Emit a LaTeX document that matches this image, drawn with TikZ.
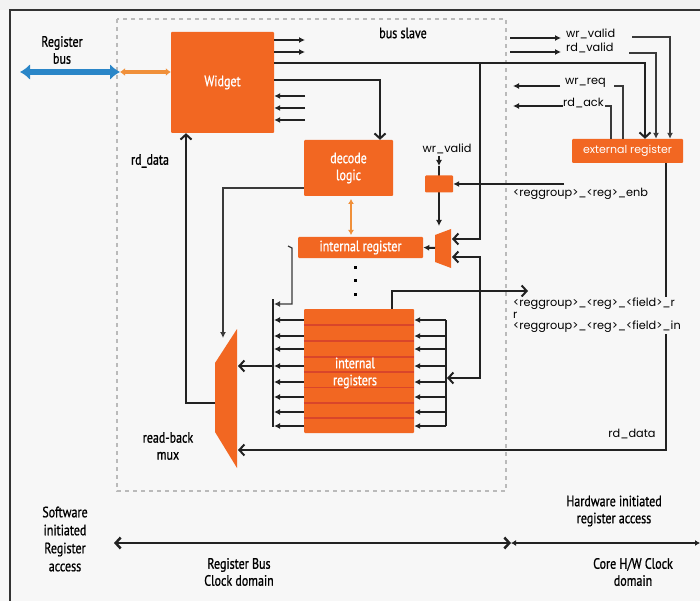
\documentclass[tikz,border=0pt]{standalone}
\usepackage{fontspec}
\setmainfont{PT Sans}
\newfontfamily\cond[FakeStretch=0.8,FakeBold=0.9]{PT Sans}
\newfontfamily\pop{Poppins}
\usetikzlibrary{arrows.meta}
\definecolor{org}{HTML}{F26722}
\definecolor{lorg}{HTML}{F0903A}
\definecolor{stripe}{HTML}{D9452A}
\definecolor{busblue}{HTML}{2A86C8}
\definecolor{bgc}{HTML}{F7F7F7}
\definecolor{wirec}{HTML}{222222}
\definecolor{thinc}{HTML}{3A3A3A}
\tikzset{
  obox/.style={fill=org, draw=none, rounded corners=1pt, inner sep=0pt, text=white, align=center},
  cl/.style={font=\cond\fontsize{15}{17}\selectfont, align=center, text=black, inner sep=0pt},
  clw/.style={font=\cond\fontsize{15}{17}\selectfont, align=center, text=white},
  pl/.style={font=\pop\fontsize{11.3}{11.5}\selectfont, text=black, inner sep=0pt},
  wire/.style={line width=2pt, draw=wirec},
  thinw/.style={line width=1.2pt, draw=thinc},
  fa/.style={-{Latex[length=6pt,width=6pt]}},
  ca/.style={-{Straight Barb[length=5pt,width=11pt]}},
  cca/.style={{Straight Barb[length=5pt,width=11pt]}-{Straight Barb[length=5pt,width=11pt]}},
}
\begin{document}
\begin{tikzpicture}[x=1pt,y=-1pt]
\useasboundingbox (0,0) rectangle (700,601);
\clip (0,0) rectangle (700,601);
\fill[bgc] (0,0) rectangle (700,601);
\fill[black!5] (0,0) rectangle (700,10);
\draw[line width=1.6pt, black!80] (10,610) -- (10,10) -- (710,10);
% bus slave box
\draw[dash pattern=on 4pt off 4pt, line width=2.5pt, black!27] (117,19) rectangle (506,491);
\node[cl] (busslave) at (403,33) {bus slave};

% register bus
\node[cl] (regbus) at (62,50) {Register\\bus};
\coordinate (busL) at (20,72);
\coordinate (busR) at (120,72);
\draw[line width=5.5pt, busblue, {Latex[length=10pt,width=16pt]}-{Latex[length=10pt,width=16pt]}] (busL) -- (busR);

% widget
\node[obox, minimum width=103pt, minimum height=101pt, font=\cond\fontsize{15}{17}\selectfont] (widget) at (222.5,82.5) {Widget};
\draw[line width=3.5pt, lorg, {Latex[length=5pt,width=8pt]}-{Latex[length=5pt,width=8pt]}] (busR) -- (widget.west |- busR);
\foreach \y in {40,52} \draw[wire,fa] (widget.east |- 0,\y) -- (305,\y);
\foreach \y in {96,108,120} \draw[wire,fa] (305,\y) -- (widget.east |- 0,\y);

% decode logic
\node[obox, minimum width=89pt, minimum height=56pt, font=\cond\fontsize{15}{17}\selectfont] (decode) at (348.5,168) {decode\\logic};
% external register
\node[obox, minimum width=111pt, minimum height=24pt, font=\pop\fontsize{11}{12}\selectfont] (extreg) at (627.5,151) {external register};

% widget -> ext reg
\coordinate (j1) at (480,63);
\draw[wire,ca] (widget.east |- 0,63) -- (645,63) -- (645,0 |- extreg.north);
% widget -> decode
\draw[wire,ca] (widget.east |- 0,80) -- (380,80) -- (380,0 |- decode.north);

% small mux
\draw[fill=org, draw=none] (435,235) -- (451,229) -- (451,268) -- (435,262) -- cycle;
\coordinate (smuxin1) at (452,239);
\coordinate (smuxin2) at (452,257);
\coordinate (smuxout) at (435,248);
\draw[wire,ca] (j1) -- (480,239) -- (smuxin1);

% internal register
\node[obox, minimum width=125pt, minimum height=21pt, font=\cond\fontsize{15}{17}\selectfont] (intreg) at (360.5,247.5) {internal register};
\draw[wire,fa] (smuxout) -- (intreg.east);
\draw[line width=2.5pt, lorg, {Latex[length=5pt,width=6pt]}-{Latex[length=5pt,width=6pt]}] (351,199) -- (351,235);

% wr_valid enable
\node[pl] (wrv2) at (447,149) {wr\_valid};
\draw[wire,fa] (439,156) -- (439,166);
\draw[wire,fa] (439,166) -- (439,226);
\node[obox, minimum width=28pt, minimum height=17pt] (enbox) at (439,184) {};
\draw[wire,fa] (564,184) -- (enbox.east);
\node[pl, anchor=west] (enbl) at (513,194) {<reggroup>\_<reg>\_enb};

% dots
\foreach \y in {267,280.5,294} \fill (353.5,\y-1.5) rectangle +(3,3);

% internal registers
\node[obox, minimum width=110pt, minimum height=124pt] (regs) at (359,371) {};
\foreach \y in {325,341,357,372,387.5,403,418} \draw[stripe, line width=1.5pt] (regs.west |- 0,\y) -- (regs.east |- 0,\y);
\node[clw] (regstxt) at (355,373) {internal\\registers};

% left bus
\coordinate (lbus) at (273,366);
\draw[wire] (273,299) -- (273,427);
\foreach \y in {320,336,349,366,382,397,412,426} \draw[wire,fa] (regs.west |- 0,\y) -- (274,\y);
\draw[thinw,fa] (288,246) -- (292,248) -- (292,304) -- (274,304);
% right bus
\draw[wire] (446,320) -- (446,426);
\foreach \y in {320,336,349,366,382,397,412,426} \draw[wire,fa] (446,\y) -- (regs.east |- 0,\y);
\draw[wire,cca] (smuxin2) -- (480,257) -- (480,378) -- (447,378);

% read-back mux
\draw[fill=org, draw=none] (215,363) -- (237,329) -- (237,468) -- (215,432) -- cycle;
\coordinate (rbm) at (226,398);
\draw[wire,ca] (lbus) -- (238,366);
\draw[thinw,-{Latex[length=6pt,width=6pt]}] (decode.west |- 0,188) -- (223,188) -- (223,338);
\draw[wire,ca] (215,403) -- (186,403) -- (186,0 |- widget.south);
\draw[wire,ca] (666,0 |- extreg.south) -- (666,450) -- (238,450);
\node[cl] (rdl) at (150,161) {rd\_data};
\node[cl] (rbml) at (168,446) {read-back\\mux};
\node[pl] (rdr) at (632,434) {rd\_data};

% field out
\draw[wire,ca] (392,0 |- regs.north) -- (392,291) -- (528,291);
\node[pl, anchor=north west, align=left, fill=bgc, inner sep=1pt] (fieldl) at (512,297) {<reggroup>\_<reg>\_<field>\_r\\r\\<reggroup>\_<reg>\_<field>\_in};

% right side signals
\node[pl, anchor=west] (wrv) at (566,34) {wr\_valid};
\node[pl, anchor=west] (rdv) at (566,48) {rd\_valid};
\node[pl, anchor=west] (wrq) at (565,83) {wr\_req};
\node[pl, anchor=west] (rda) at (563,103) {rd\_ack};
\draw[wire,fa] (510,38) -- (561,38);
\draw[wire,fa] (510,52) -- (561,52);
\draw[wire,fa] (560,86) -- (513,86);
\draw[wire,fa] (563,106) -- (513,106);
\draw[thinw,fa] (632,37) -- (670,37) -- (670,0 |- extreg.north);
\draw[thinw,fa] (629,53) -- (656,53) -- (656,0 |- extreg.north);
\draw[thinw] (623,0 |- extreg.north) -- (623,86) -- (614,86);
\draw[thinw] (611,0 |- extreg.north) -- (611,106) -- (605,106);

% bottom
\node[cl, font=\cond\fontsize{15}{18}\selectfont] (sw) at (65,539) {Software\\initiated\\Register\\access};
\node[cl] (hw) at (614,511) {Hardware initiated\\register access};
\node[cl] (rbc) at (239,572) {Register Bus\\Clock domain};
\node[cl] (hwc) at (633,572) {Core H/W Clock\\domain};
\coordinate (dA) at (114,543);
\coordinate (dB) at (511,543);
\coordinate (dC) at (700,543);
\draw[line width=2.5pt, wirec, cca] (dA) -- (dB);
\draw[line width=2pt, wirec, {Latex[length=5pt,width=6pt]}-{Latex[length=5pt,width=6pt]}] (dB) -- (dC);
\end{tikzpicture}
\end{document}
